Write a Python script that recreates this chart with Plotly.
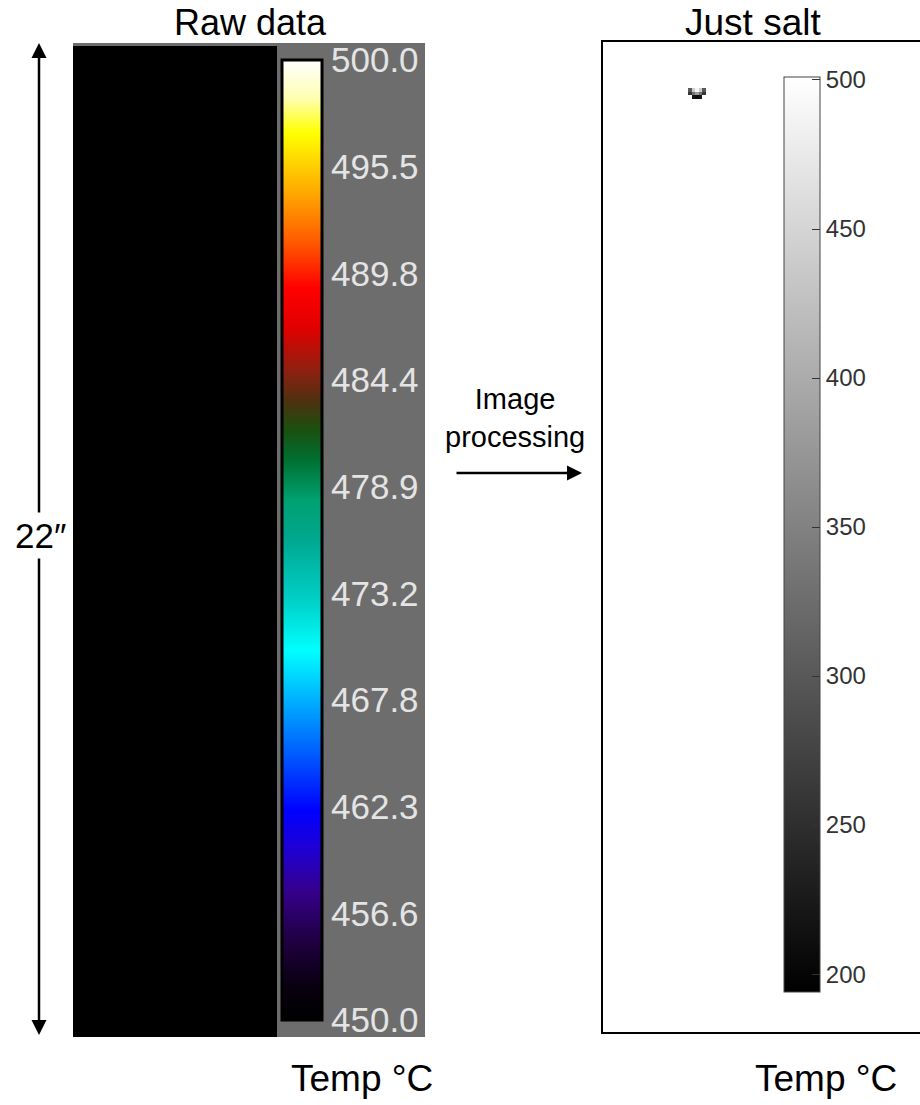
import numpy as np
import plotly.graph_objects as go

W, H = 920, 1105

# ---------------- data ----------------
# raw thermal frame: every pixel sits at (or below) the bottom of the 450-500 scale
raw_image = [[450.0, 450.0, 450.0],
             [450.0, 450.0, 450.0],
             [450.0, 450.0, 450.0]]
raw_range = [450.0, 500.0]
raw_tick_labels = ["450.0", "456.6", "462.3", "467.8", "473.2",
                   "478.9", "484.4", "489.8", "495.5", "500.0"]

# processed "just salt" image: white field with one small dark blob
salt_range = [194.0, 501.0]
salt_tick_values = [200, 250, 300, 350, 400, 450, 500]
salt_background = 501.0
salt_rows, salt_cols = 283, 90
salt_blob = [[300.0, 440.0, 490.0, 440.0, 300.0],
             [260.0, 330.0, 380.0, 330.0, 260.0],
             [501.0, 220.0, 210.0, 220.0, 501.0]]
salt_blob_row, salt_blob_col = 13, 24

# ---------------- helpers ----------------
def px(x):
    return x / W

def py(y):
    return 1 - y / H

salt_image = np.full((salt_rows, salt_cols), salt_background)
blob = np.array(salt_blob)
salt_image[salt_blob_row:salt_blob_row + blob.shape[0],
           salt_blob_col:salt_blob_col + blob.shape[1]] = blob

thermal = [
    [0.000, "#000000"], [0.035, "#080010"], [0.082, "#200040"],
    [0.134, "#35008a"], [0.176, "#2000d0"], [0.218, "#0000ff"],
    [0.270, "#0050ff"], [0.333, "#00b0ff"], [0.385, "#00ffff"],
    [0.437, "#00d0c8"], [0.500, "#00a890"], [0.542, "#00a070"],
    [0.584, "#007030"], [0.615, "#1a5010"], [0.646, "#503010"],
    [0.678, "#902010"], [0.720, "#e00000"], [0.762, "#ff0000"],
    [0.814, "#ff6000"], [0.856, "#ffa000"], [0.924, "#ffff00"],
    [0.960, "#ffffb0"], [1.000, "#ffffff"],
]
grays = [[0, "#000000"], [1, "#ffffff"]]

fig = go.Figure()

fig.add_trace(go.Heatmap(
    z=raw_image, colorscale=thermal, zmin=raw_range[0], zmax=raw_range[1],
    xaxis="x", yaxis="y", hoverinfo="skip",
    colorbar=dict(
        x=px(282), xanchor="left", xpad=0,
        y=py(60), yanchor="top", ypad=0,
        len=960, lenmode="pixels",
        thickness=40, thicknessmode="pixels",
        outlinecolor="black", outlinewidth=3,
        bgcolor="rgba(0,0,0,0)",
        tickmode="array",
        tickvals=list(np.linspace(raw_range[0], raw_range[1], len(raw_tick_labels))),
        ticktext=raw_tick_labels,
        ticks="",
        tickfont=dict(family="Liberation Sans", size=35, color="#e4e4e4"),
    ),
))

fig.add_trace(go.Heatmap(
    z=salt_image, colorscale=grays, zmin=salt_range[0], zmax=salt_range[1],
    xaxis="x2", yaxis="y2", hoverinfo="skip",
    colorbar=dict(
        x=px(784), xanchor="left", xpad=0,
        y=py(77), yanchor="top", ypad=0,
        len=915, lenmode="pixels",
        thickness=36, thicknessmode="pixels",
        outlinecolor="#444444", outlinewidth=1,
        bgcolor="rgba(0,0,0,0)",
        tickmode="array", tickvals=salt_tick_values,
        ticks="inside", ticklen=8, tickwidth=1, tickcolor="#333333",
        tickfont=dict(family="Liberation Sans", size=24, color="#333333"),
    ),
))

hidden = dict(visible=False, showgrid=False, zeroline=False, fixedrange=True)
fig.update_layout(
    width=W, height=H,
    margin=dict(l=0, r=0, t=0, b=0),
    paper_bgcolor="white", plot_bgcolor="rgba(0,0,0,0)",
    showlegend=False,
    xaxis=dict(domain=[px(73), px(277)], **hidden),
    yaxis=dict(domain=[py(1037), py(46)], **hidden),
    xaxis2=dict(domain=[px(604), 1.0], range=[-0.5, salt_cols - 0.5], **hidden),
    yaxis2=dict(domain=[py(1031), py(43)], range=[salt_rows - 0.5, -0.5], **hidden),
    font=dict(family="Liberation Sans", color="black"),
)

fig.add_shape(type="rect", xref="paper", yref="paper",
              x0=px(73), x1=px(425), y0=py(1037), y1=py(43),
              fillcolor="#6d6d6d", line=dict(width=0), layer="below")
fig.add_shape(type="rect", xref="paper", yref="paper",
              x0=px(602), x1=px(960), y0=py(1033), y1=py(41),
              fillcolor="rgba(0,0,0,0)", line=dict(color="black", width=2), layer="above")

ann = []
def text(x, y, s, size, **kw):
    d = dict(x=px(x), y=py(y), xref="paper", yref="paper", text=s, showarrow=False,
             xanchor="center", yanchor="middle",
             font=dict(family="Liberation Sans", size=size, color="black"))
    d.update(kw)
    ann.append(d)

def arrow(xt, yt, ax, ay):
    ann.append(dict(x=px(xt), y=py(yt), xref="paper", yref="paper", text="",
                    showarrow=True, ax=ax, ay=ay, axref="pixel", ayref="pixel",
                    arrowhead=2, arrowsize=1.2, arrowwidth=2.5, arrowcolor="black"))

text(250, 22, "Raw data", 36)
text(753, 22, "Just salt", 37)
text(362, 1078, "Temp °C", 37)
text(826, 1078, "Temp °C", 37)
text(515, 418, "Image<br>processing", 29)
arrow(582, 473, -127, 0)
arrow(39, 43, 0, 496)
arrow(39, 1035, 0, -496)
text(40, 535, "22″", 35, bgcolor="white", borderpad=3)
fig.update_layout(annotations=ann)

fig.write_html(
    "out.html",
    config={"displayModeBar": False},
    post_script="document.body.style.margin='0px';document.body.style.overflow='hidden';",
)
